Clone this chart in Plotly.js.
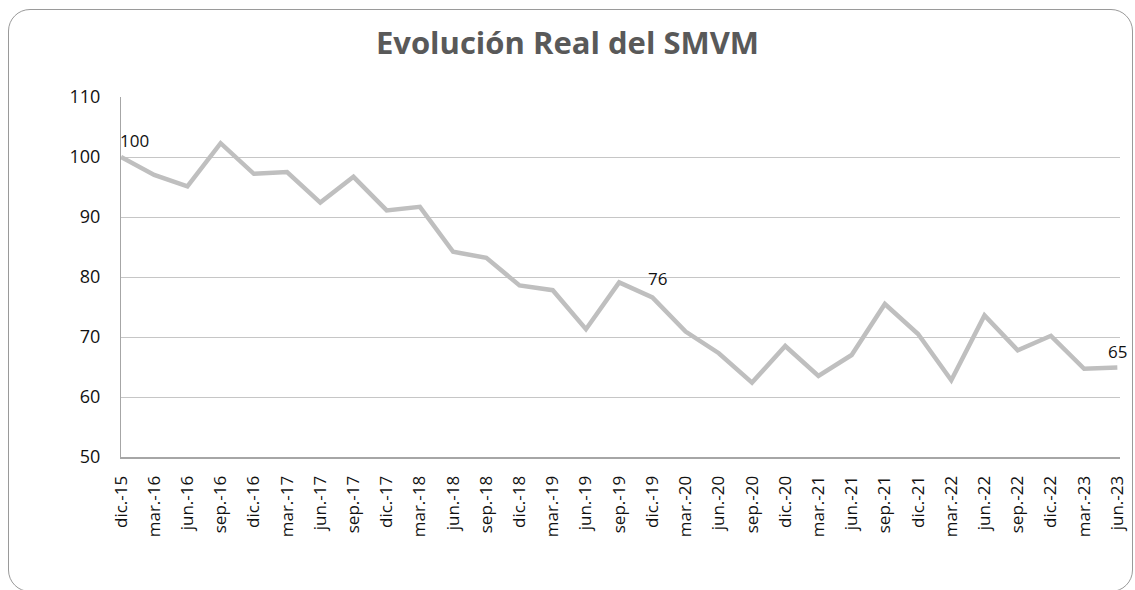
<!DOCTYPE html>
<html>
<head>
<meta charset="utf-8">
<script src="https://cdn.plot.ly/plotly-3.0.1.min.js"></script>
<style>
  html, body { margin: 0; padding: 0; background: #ffffff; }
  #wrap { position: relative; width: 1135px; height: 590px; overflow: hidden; }
  #chart { position: absolute; left: 0; top: 0; width: 1135px; height: 590px; }
  #frame { position: absolute; left: 8px; top: 9px; width: 1125px; height: 583px;
           border: 1.5px solid #9a9a9a; border-radius: 22px; pointer-events: none; box-sizing: border-box; }
</style>
</head>
<body>
<div id="wrap">
  <div id="chart"></div>
  <div id="frame"></div>
</div>
<script>
const categories = ["dic.-15","mar.-16","jun.-16","sep.-16","dic.-16","mar.-17","jun.-17","sep.-17",
  "dic.-17","mar.-18","jun.-18","sep.-18","dic.-18","mar.-19","jun.-19","sep.-19",
  "dic.-19","mar.-20","jun.-20","sep.-20","dic.-20","mar.-21","jun.-21","sep.-21",
  "dic.-21","mar.-22","jun.-22","sep.-22","dic.-22","mar.-23","jun.-23"];

const smvmReal = [100, 97.0, 95.1, 102.3, 97.2, 97.5, 92.4, 96.7,
  91.1, 91.7, 84.2, 83.2, 78.6, 77.8, 71.3, 79.1,
  76.6, 70.9, 67.3, 62.4, 68.5, 63.5, 67.0, 75.5,
  70.5, 62.8, 73.6, 67.8, 70.2, 64.7, 64.9];

const labelIndices = [0, 16, 30];
const labelTexts = ["100", "76", "65"];

const yTicks = [50, 60, 70, 80, 90, 100, 110];

const FONT = "Open Sans, Liberation Sans, sans-serif";

const trace = {
  type: "scatter",
  mode: "lines",
  x: categories,
  y: smvmReal,
  line: { color: "#bfbfbf", width: 4.5 },
  cliponaxis: false,
  hoverinfo: "x+y",
  showlegend: false
};

const labelOffsets = [[13, 17], [5, 19], [0, 16]];
const annotations = labelIndices.map((idx, k) => ({
  x: categories[idx],
  y: smvmReal[idx],
  xref: "x", yref: "y",
  text: labelTexts[k],
  showarrow: false,
  xanchor: "center", yanchor: "middle",
  xshift: labelOffsets[k][0],
  yshift: labelOffsets[k][1],
  font: { family: FONT, size: 17, color: "#111111" }
}));

const layout = {
  width: 1135,
  height: 590,
  paper_bgcolor: "#ffffff",
  plot_bgcolor: "#ffffff",
  margin: { l: 121, r: 15, t: 97, b: 133 },
  title: {
    text: "Evolución Real del SMVM",
    font: { family: FONT, size: 31, color: "#595959", weight: 700 },
    x: 0.5, xanchor: "center",
    y: 1 - 43 / 590, yanchor: "middle",
    yref: "container"
  },
  annotations: annotations,
  xaxis: {
    type: "category",
    range: [0, 30.08],
    tickangle: -90,
    tickfont: { family: FONT, size: 17, color: "#111111" },
    showgrid: false,
    showline: true,
    linecolor: "#a6a6a6",
    linewidth: 2,
    ticks: "",
    ticklabelstandoff: 10,
    zeroline: false,
    fixedrange: true
  },
  yaxis: {
    range: [50, 110],
    tickvals: yTicks,
    ticktext: yTicks.map(String),
    tickfont: { family: FONT, size: 18, color: "#111111" },
    showgrid: true,
    gridcolor: "#c6c6c6",
    gridwidth: 1,
    showline: true,
    linecolor: "#a6a6a6",
    linewidth: 1,
    ticks: "",
    ticklabelstandoff: 16,
    zeroline: false,
    fixedrange: true
  }
};

Plotly.newPlot("chart", [trace], layout, { displayModeBar: false, staticPlot: true });
</script>
</body>
</html>
